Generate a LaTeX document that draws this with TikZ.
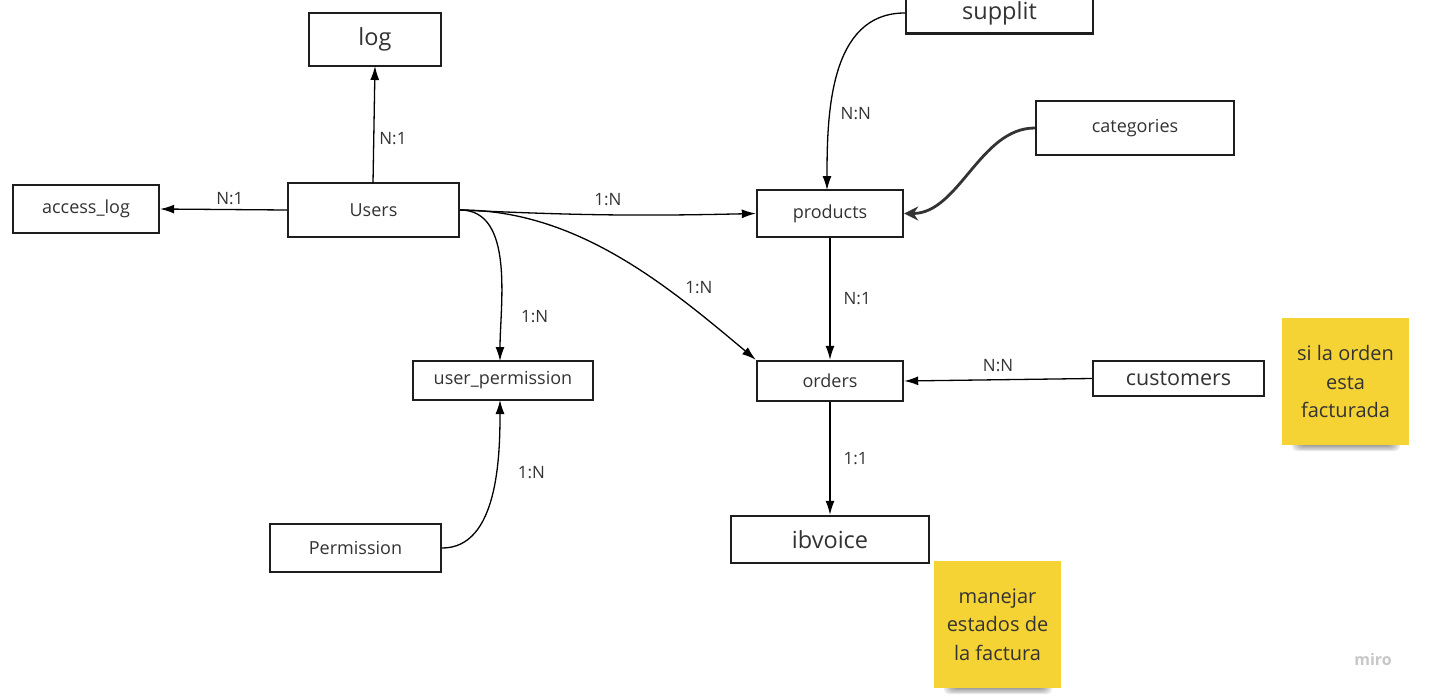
\documentclass[tikz,border=0pt]{standalone}
\usepackage{fontspec}
\setmainfont{Open Sans}
\usetikzlibrary{arrows.meta,positioning}
\definecolor{txt}{HTML}{333333}
\definecolor{bord}{HTML}{1E1E1E}
\definecolor{sticky}{HTML}{F5D334}
\tikzset{
  ent/.style={draw=bord, line width=2.4pt, fill=white, text=txt, inner sep=0pt, font=\fontsize{18}{21}\selectfont},
  bigent/.style={ent, font=\fontsize{23.5}{27}\selectfont},
  conn/.style={draw=black, line width=1.3pt, -{Latex[length=14pt,width=9pt]}},
  lbl/.style={text=txt, font=\fontsize{17}{20}\selectfont, inner sep=1pt},
  note/.style={fill=sticky, text=txt, align=center, font=\fontsize{20}{28.5}\selectfont, inner sep=0pt, minimum width=127pt, minimum height=127pt},
  shad/.style={fill=black, opacity=0.09, rounded corners=5pt},
}
\begin{document}
\begin{tikzpicture}[x=1pt,y=-1pt]
\useasboundingbox (0,0) rectangle (1429,699);
% sticky notes with soft shadows
\foreach \d in {0,2,4,6,8} {
  \fill[shad] (1292+\d,436) rectangle (1400-\d,451-\d*0.6);
  \fill[shad] (944+\d,679) rectangle (1052-\d,694-\d*0.6);
}
\node[note] (n1) at (1345.5,381.5) {si la orden\\esta\\facturada};
\node[note] (n2) at (997.5,624.5) {manejar\\estados de\\la factura};
% entities
\node[bigent, minimum width=132pt, minimum height=53pt] (log) at (375,39.5) {log};
\node[ent, minimum width=171pt, minimum height=54pt] (users) at (373.5,210) {Users};
\node[ent, minimum width=146pt, minimum height=48pt] (access) at (86,209) {access\_log};
\node[ent, minimum width=146pt, minimum height=47pt] (products) at (830,213.5) {products};
\node[bigent, minimum width=187pt, minimum height=41pt] (supplit) at (999.5,13) {supplit};
\node[ent, minimum width=198pt, minimum height=54pt] (cat) at (1135,128) {categories};
\node[ent, minimum width=180pt, minimum height=39pt] (uperm) at (503,380.5) {user\_permission};
\node[ent, minimum width=146pt, minimum height=40pt] (orders) at (830,381) {orders};
\node[ent, minimum width=171pt, minimum height=35pt, font=\fontsize{21.5}{25}\selectfont] (cust) at (1178.5,378.5) {customers};
\node[ent, minimum width=171pt, minimum height=48pt] (perm) at (355.5,548) {Permission};
\node[bigent, minimum width=198pt, minimum height=47pt] (ibv) at (830,539.5) {ibvoice};
% anchor points
\coordinate (uTop) at (373,183);
\coordinate (logBot) at (375,66);
\coordinate (upTop) at (500,361);
\coordinate (upBot) at (500,400);
\coordinate (pTop) at (827,190);
% connectors
\draw[conn] (uTop) -- (logBot) node[lbl, pos=0.38, right=4pt] {N:1};
\draw[conn] (users.west) -- (access.east) node[lbl, pos=0.45, above=3pt] {N:1};
\draw[conn] (users.east) to[bend left=-2] node[lbl, pos=0.5, above=7pt] {1:N} (products.west);
\draw[conn] (users.east) to[out=0, in=90, looseness=0.9] node[lbl, pos=0.76, right=18pt] {1:N} (upTop);
\draw[conn] (users.east) to[out=0, in=140, looseness=0.9] node[lbl, pos=0.72, above right=5pt] {1:N} (orders.north west);
\draw[conn] (supplit.west) to[out=180, in=90, looseness=1] node[lbl, pos=0.68, right=9pt] {N:N} (pTop);
\draw[draw=black!80, line width=2.8pt, -{Stealth[length=14pt,width=14pt]}] (cat.west) to[out=180, in=0, looseness=0.9] (products.east);
\draw[conn] (products.south) -- (orders.north) node[lbl, pos=0.5, right=12pt] {N:1};
\draw[conn] (cust.west) -- (orders.east) node[lbl, pos=0.5, above=6pt] {N:N};
\draw[conn] (orders.south) -- (ibv.north) node[lbl, pos=0.5, right=12pt] {1:1};
\draw[conn] (perm.east) to[out=0, in=-90, looseness=0.9] node[lbl, pos=0.62, right=20pt] {1:N} (upBot);
% watermark
\node[text=black!22, font=\bfseries\fontsize{16}{18}\selectfont] (miro) at (1373,659) {miro};
\end{tikzpicture}
\end{document}
